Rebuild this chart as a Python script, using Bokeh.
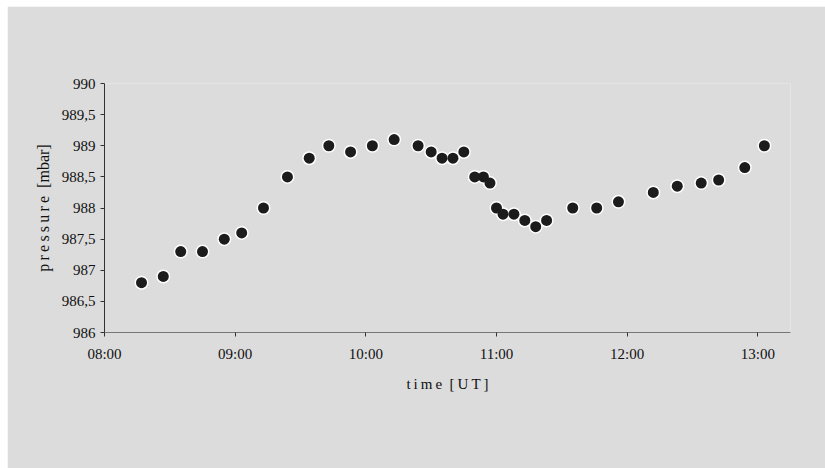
from bokeh.plotting import figure
from bokeh.models import FixedTicker, CustomJSTickFormatter, Range1d, ColumnDataSource
from bokeh.embed import file_html
from bokeh.resources import INLINE

# ---- data ----
times = ["08:17", "08:27", "08:35", "08:45", "08:55", "09:03", "09:13", "09:24",
         "09:34", "09:43", "09:53", "10:03", "10:13", "10:24", "10:30", "10:35",
         "10:40", "10:45", "10:50", "10:54", "10:57", "11:00", "11:03", "11:08",
         "11:13", "11:18", "11:23", "11:35", "11:46", "11:56", "12:12", "12:23",
         "12:34", "12:42", "12:54", "13:03"]
pressure = [986.8, 986.9, 987.3, 987.3, 987.5, 987.6, 988.0, 988.5,
            988.8, 989.0, 988.9, 989.0, 989.1, 989.0, 988.9, 988.8,
            988.8, 988.9, 988.5, 988.5, 988.4, 988.0, 987.9, 987.9,
            987.8, 987.7, 987.8, 988.0, 988.0, 988.1, 988.25, 988.35,
            988.4, 988.45, 988.65, 989.0]
x_ticks = [8, 9, 10, 11, 12, 13]
y_ticks = [986, 986.5, 987, 987.5, 988, 988.5, 989, 989.5, 990]

hours = [int(t[:2]) + int(t[3:]) / 60 for t in times]
src = ColumnDataSource(dict(x=hours, y=pressure))

BG = "#dcdcdc"
FONT = "Liberation Serif"

p = figure(width=818, height=462, output_backend="svg", toolbar_location=None,
           x_range=Range1d(8.0, 13.25), y_range=Range1d(986, 990),
           min_border_left=97, min_border_right=35, min_border_top=77,
           min_border_bottom=136)
p.margin = (6, 0, 0, 7)
p.background_fill_color = BG
p.border_fill_color = BG
p.outline_line_color = None
p.grid.visible = False

# markers
p.scatter("x", "y", source=src, size=14, color="white", line_color=None)
p.scatter("x", "y", source=src, size=11, color="#1c1c1c", line_color=None)

# x axis
xa = p.xaxis[0]
xa.ticker = FixedTicker(ticks=x_ticks)
xa.formatter = CustomJSTickFormatter(code="return (tick < 10 ? '0' : '') + tick + ':00';")
xa.axis_line_color = "#777777"
xa.major_tick_line_color = "#333333"
xa.major_tick_in = 0
xa.major_tick_out = 4
xa.minor_tick_line_color = None
xa.major_label_text_font = FONT
xa.major_label_text_font_size = "15px"
xa.major_label_text_color = "#111111"
xa.major_label_standoff = 9
xa.axis_label = "t\u2009i\u2009m\u2009e\u2002[\u2009U\u2009T\u2009]"
xa.axis_label_text_font = FONT
xa.axis_label_text_font_size = "15px"
xa.axis_label_text_font_style = "normal"
xa.axis_label_text_color = "#111111"
xa.axis_label_standoff = 11

# y axis
ya = p.yaxis[0]
ya.ticker = FixedTicker(ticks=y_ticks)
ya.formatter = CustomJSTickFormatter(code="return tick.toString().replace('.', ',');")
ya.axis_line_color = "#333333"
ya.major_tick_line_color = "#333333"
ya.major_tick_in = 0
ya.major_tick_out = 4
ya.minor_tick_line_color = None
ya.major_label_text_font = FONT
ya.major_label_text_font_size = "15px"
ya.major_label_text_color = "#111111"
ya.major_label_standoff = 5
ya.axis_label = "p\u2009r\u2009e\u2009s\u2009s\u2009u\u2009r\u2009e\u2002[mbar]"
ya.axis_label_text_font = FONT
ya.axis_label_text_font_size = "16px"
ya.axis_label_text_font_style = "normal"
ya.axis_label_text_color = "#111111"
ya.axis_label_standoff = 7

open("out.html", "w").write(file_html(p, INLINE))
